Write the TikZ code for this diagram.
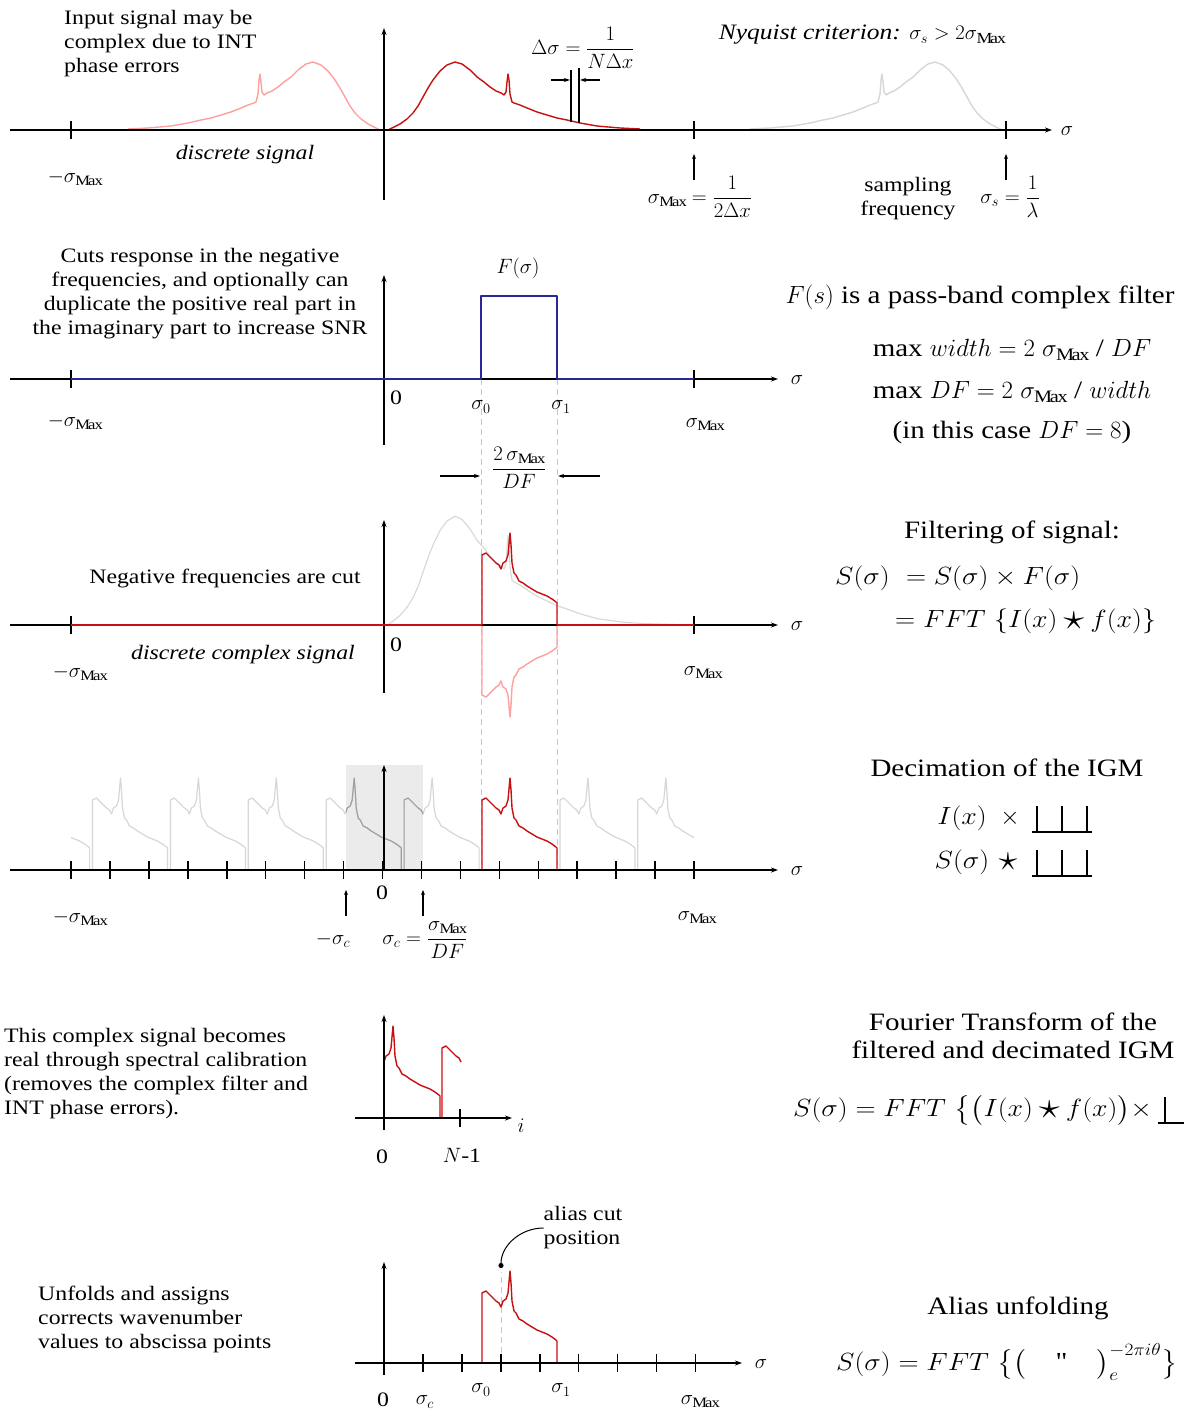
\documentclass[tikz,border=0pt]{standalone}
\usepackage{exscale}
\usepackage{graphicx}
\usepackage{fontspec}
\setmainfont[FakeStretch=1.16]{Liberation Serif}
\newfontfamily\qfont{Liberation Serif}
\usetikzlibrary{arrows.meta,calc}
\definecolor{sigred}{RGB}{200,16,16}
\definecolor{sigpink}{RGB}{255,160,160}
\definecolor{siggray}{RGB}{215,215,215}
\definecolor{sigdark}{RGB}{160,160,160}
\definecolor{sigblue}{RGB}{40,40,150}
\definecolor{dashgray}{RGB}{200,200,200}
\definecolor{boxgray}{RGB}{235,235,235}
\newcommand\Mx{\mathrm{Max}}
\newcommand\bstar{\mathbin{\raisebox{-0.15ex}{\scalebox{1.5}{$\star$}}}}
\newcommand\wideM[1]{\scalebox{1.12}[1]{#1}}
\newcommand\BandFull{(482,0) -- (482,-70) -- (486,-72) -- (490,-68) -- (493,-65) -- (496,-62) -- (499,-60) -- (501,-56) -- (503,-62) -- (506,-64) -- (508,-70) -- (510,-92) -- (511,-80) -- (512,-62) -- (514,-52) -- (516,-50) -- (519,-44) -- (523,-42) -- (527,-39) -- (532,-36) -- (537,-33) -- (542,-31) -- (547,-29) -- (552,-26) -- (556,-23) -- (557,-22) -- (557,0)}
\newcommand\BandA{(501,-56) -- (503,-62) -- (506,-64) -- (508,-70) -- (510,-92) -- (511,-80) -- (512,-62) -- (514,-52) -- (516,-50) -- (519,-44) -- (523,-42) -- (527,-39) -- (532,-36) -- (537,-33) -- (542,-31) -- (547,-29) -- (552,-26) -- (556,-23) -- (557,-22) -- (557,0)}
\newcommand\BandB{(482,0) -- (482,-70) -- (486,-72) -- (490,-68) -- (493,-65) -- (496,-62) -- (499,-60) -- (501,-56)}
\newcommand\FullPts{(388,0) -- (392,-2) -- (400,-6) -- (407,-11) -- (413,-17) -- (418,-24) -- (423,-33) -- (428,-42) -- (433,-50) -- (440,-59) -- (447,-65) -- (455,-68) -- (462,-66) -- (470,-60) -- (477,-53) -- (484,-48) -- (490,-43) -- (496,-39) -- (501,-37) -- (504,-35) -- (506,-38) -- (507,-48) -- (508,-56) -- (509,-50) -- (510,-36) -- (512,-28) -- (514,-27) -- (517,-26) -- (520,-25) -- (527,-22) -- (537,-18) -- (547,-15) -- (557,-12) -- (567,-10) -- (580,-7) -- (597,-4) -- (620,-2) -- (640,-1)}
\begin{document}
\begin{tikzpicture}[x=1pt,y=-1pt,
  axisline/.style={line width=1.5pt,-{Stealth[length=7pt,width=5pt]}},
  tickm/.style={line width=1.5pt},
  uparr/.style={line width=1.2pt,-{Stealth[length=5pt,width=4pt]}},
  dimarr/.style={line width=1.1pt,-{Stealth[length=6pt,width=4pt]}},
  curve/.style={line width=1.4pt,line join=round},
  dashln/.style={dashgray,line width=1pt,dash pattern=on 6pt off 4pt},
  lbl/.style={font=\fontsize{20.5}{24}\selectfont,inner sep=0pt},
  big/.style={font=\fontsize{25}{28}\selectfont,inner sep=0pt},
  mbig/.style={font=\fontsize{26}{30}\selectfont,inner sep=0pt},
  comb/.style={line width=1.5pt}]
\useasboundingbox (0,0) rectangle (1183,1412);
\fill[white] (0,0) rectangle (1183,1412);

% ================= Panel 1 =================
\begin{scope}[shift={(0,130)}]
  \draw[curve,sigpink] [shift={(768,0)},xscale=-1] \FullPts;
  \draw[curve,siggray] [shift={(1390,0)},xscale=-1] \FullPts;
  \draw[curve,sigred] \FullPts;
\end{scope}
\draw[axisline] (10,130) -- (1052,130);
\draw[axisline] (384,200) -- (384,28);
\foreach \xx in {71,694,1006} \draw[tickm] (\xx,121) -- (\xx,139);
\node[lbl] (sig1) at (1067,131) {$\sigma$};
\node[lbl,anchor=north west,align=left] (t1) at (64,10) {Input signal may be\\complex due to INT\\phase errors};
\node[lbl] (dsig) at (583,48) {$\Delta\sigma = \displaystyle\frac{1}{N\Delta x}$};
\draw[line width=1.3pt] (571,70) -- (571,122);
\draw[line width=1.3pt] (579,68) -- (579,123);
\draw[dimarr] (551,80) -- (570,80);
\draw[dimarr] (600,80) -- (580,80);
\node[lbl,font=\fontsize{22}{26}\selectfont] (nyq) at (862,35) {\itshape Nyquist criterion: $\sigma_s > 2\sigma_{\Mx}$};
\node[lbl] (ds) at (245,155) {\itshape discrete signal};
\node[lbl] (mm1) at (75,178) {$-\sigma_{\Mx}$};
\coordinate (a1) at (694,180);
\coordinate (a1t) at (694,154);
\draw[uparr] (a1) -- (a1t);
\node[lbl] (sm1) at (700,197) {$\sigma_{\Mx} = \displaystyle\frac{1}{2\Delta x}$};
\coordinate (a2) at (1006,180);
\coordinate (a2t) at (1006,154);
\draw[uparr] (a2) -- (a2t);
\node[lbl,align=center] (samp) at (908,199) {sampling\\frequency};
\node[lbl] (ss) at (1010,197) {$\sigma_s = \displaystyle\frac{1}{\lambda}$};

% ================= Panel 2 =================
\draw[dashln] (481,379) -- (481,870);
\draw[dashln] (557,379) -- (557,870);
\draw[axisline] (10,379) -- (778,379);
\draw[axisline] (384,445) -- (384,275);
\foreach \xx in {71,694} \draw[tickm] (\xx,370) -- (\xx,388);
\draw[curve,sigblue] (71,379) -- (481,379) -- (481,296) -- (557,296) -- (557,379) -- (694,379);
\node[lbl] (sig2) at (797,380) {$\sigma$};
\node[lbl,align=center] (t2) at (200,294) {Cuts response in the negative\\frequencies, and optionally can\\duplicate the positive real part in\\the imaginary part to increase SNR};
\node[lbl] (Fs) at (518,268) {$F(\sigma)$};
\node[lbl] (z2) at (396,398) {0};
\node[lbl] (s0a) at (481,407) {$\sigma_0$};
\node[lbl] (s1a) at (561,407) {$\sigma_1$};
\node[lbl] (mm2) at (75,422) {$-\sigma_{\Mx}$};
\node[lbl] (pm2) at (705,425) {$\sigma_{\Mx}$};
\node[lbl] (wdf) at (519,468) {$\displaystyle\frac{2\,\sigma_{\Mx}}{DF}$};
\draw[dimarr] (440,476) -- (480,476);
\draw[dimarr] (600,476) -- (558,476);
\node[big] (pb) at (980,297) {$F(s)$ is a pass-band complex filter};
\node[big] (mw) at (1012,350) {max $width = 2\ \sigma_{\Mx}$ / $DF$};
\node[big] (md) at (1012,392) {max $DF = 2\ \sigma_{\Mx}$ / $width$};
\node[big] (ic) at (1012,432) {(in this case $DF = 8$)};

% ================= Panel 3 =================
\begin{scope}[shift={(0,625)}]
  \draw[curve,siggray,line width=1.1pt] [yscale=1.6] \FullPts -- (660,-0.6) -- (690,0);
  \draw[curve,sigpink] [yscale=-1] \BandFull;
\end{scope}
\draw[axisline] (10,625) -- (778,625);
\draw[axisline] (384,693) -- (384,520);
\foreach \xx in {71,694} \draw[tickm] (\xx,616) -- (\xx,634);
\draw[curve,sigred] (71,625) -- (482,625);
\draw[curve,sigred] (557,625) -- (694,625);
\draw[curve,sigred] [shift={(0,625)}] \BandFull;
\node[lbl] (sig3) at (797,626) {$\sigma$};
\node[lbl] (neg) at (225,578) {Negative frequencies are cut};
\node[lbl] (z3) at (396,645) {0};
\node[lbl] (dcs) at (243,655) {\itshape discrete complex signal};
\node[lbl] (mm3) at (80,673) {$-\sigma_{\Mx}$};
\node[lbl] (pm3) at (703,673) {$\sigma_{\Mx}$};
\node[big] (fil) at (1012,532) {Filtering of signal:};
\node[mbig,anchor=west] (f1) at (835,578) {\wideM{$S(\sigma)\ = S(\sigma)\times F(\sigma)$}};
\node[mbig,anchor=west] (f2) at (895,621) {\wideM{$= FFT\ \{I(x)\bstar f(x)\}$}};

% ================= Panel 4 =================
\fill[boxgray] (346,765) rectangle (423,870);
\begin{scope}
  \clip (71,700) rectangle (694,870);
  \foreach \k in {-6,...,-1,1,2}
    \draw[curve,siggray,line width=1.2pt] [shift={(\k*77.9,870)}] \BandFull;
\end{scope}
\begin{scope}
  \clip (346,765) rectangle (423,870);
  \foreach \k in {-2,-1}
    \draw[curve,sigdark,line width=1.2pt] [shift={(\k*77.9,870)}] \BandFull;
\end{scope}
\draw[curve,sigred] [shift={(0,870)}] \BandFull;
\draw[axisline] (10,870) -- (778,870);
\draw[axisline] (384,870) -- (384,765);
\foreach \k in {0,...,16} \draw[tickm] ({71+38.94*\k},861) -- ({71+38.94*\k},879);
\node[lbl] (sig4) at (797,871) {$\sigma$};
\node[lbl] (z4) at (382,893) {0};
\coordinate (a3) at (346,916);
\coordinate (a3t) at (346,890);
\draw[uparr] (a3) -- (a3t);
\coordinate (a4) at (423,916);
\coordinate (a4t) at (423,890);
\draw[uparr] (a4) -- (a4t);
\node[lbl] (msc) at (333,940) {$-\sigma_c$};
\node[lbl] (sc) at (425,940) {$\sigma_c = \displaystyle\frac{\sigma_{\Mx}}{DF}$};
\node[lbl] (mm4) at (80,918) {$-\sigma_{\Mx}$};
\node[lbl] (pm4) at (697,918) {$\sigma_{\Mx}$};
\node[big] (dec) at (1007,768) {Decimation of the IGM};
\node[mbig] (ix) at (962,818) {\wideM{$I(x)$}};
\node[mbig] (tm) at (1010,818) {$\times$};
\draw[comb] (1032,832) -- (1092,832) (1037,832) -- (1037,806) (1062,832) -- (1062,806) (1087,832) -- (1087,806);
\node[mbig] (sx) at (962,862) {\wideM{$S(\sigma)$}};
\node[mbig] (st) at (1008,862) {$\bstar$};
\draw[comb] (1032,876) -- (1092,876) (1037,876) -- (1037,850) (1062,876) -- (1062,850) (1087,876) -- (1087,850);

% ================= Panel 5 =================
\draw[curve,sigred] [shift={(-117,1118)}] \BandA;
\draw[curve,sigred] [shift={(-40,1118)}] \BandB;
\draw[axisline] (355,1118) -- (512,1118);
\draw[axisline] (384,1130) -- (384,1015);
\draw[tickm] (460,1109) -- (460,1127);
\node[lbl] (ii) at (521,1126) {$i$};
\node[lbl] (z5) at (382,1157) {0};
\node[lbl] (n1) at (462,1155) {$N$-1};
\node[lbl,anchor=north west,align=left] (t5) at (4,1028) {This complex signal becomes\\real through spectral calibration\\(removes the complex filter and\\INT phase errors).};
\node[big,align=center] (ft) at (1013,1036) {Fourier Transform of the\\filtered and decimated IGM};
\node[mbig,anchor=west] (f3) at (793,1110) {\wideM{$S(\sigma) = FFT\ \big\{\big(I(x)\bstar f(x)\big)\times$}};
\draw[comb] ($(f3.east)+(6,13)$) -- ++(40,0) ($(f3.east)+(13,13)$) -- ++(0,-26);

% ================= Panel 6 =================
\draw[dashln] (501,1363) -- (501,1272);
\draw[curve,sigred] [shift={(0,1363)}] \BandFull;
\draw[axisline] (355,1363) -- (742,1363);
\draw[axisline] (384,1375) -- (384,1262);
\foreach \k in {1,...,8} \draw[tickm] ({384+38.94*\k},1354) -- ({384+38.94*\k},1372);
\node[lbl] (sig6) at (761,1364) {$\sigma$};
\node[lbl,align=left] (acp) at (583,1228) {alias cut\\position};
\coordinate (cut) at (501,1268);
\draw[line width=1pt,-{Circle[length=5pt]}] (acp.west) to[out=180,in=90] (cut);
\node[lbl] (z6) at (383,1400) {0};
\node[lbl] (sc6) at (425,1402) {$\sigma_c$};
\node[lbl] (s06) at (481,1390) {$\sigma_0$};
\node[lbl] (s16) at (561,1390) {$\sigma_1$};
\node[lbl] (pm6) at (700,1402) {$\sigma_{\Mx}$};
\node[lbl,anchor=north west,align=left] (t6) at (38,1286) {Unfolds and assigns\\corrects wavenumber\\values to abscissa points};
\node[big] (au) at (1018,1308) {Alias unfolding};
\node[mbig,anchor=west] (f4) at (836,1362) {\wideM{$S(\sigma) = FFT\ \big\{\big(\quad\mbox{\qfont "}\quad\big)_{e}^{-2\pi i\theta}\big\}$}};
\end{tikzpicture}
\end{document}
